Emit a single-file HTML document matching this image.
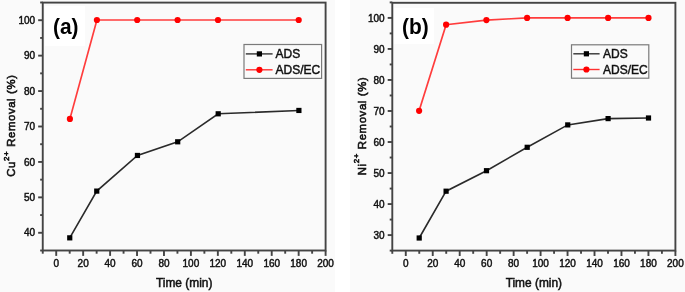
<!DOCTYPE html>
<html><head><meta charset="utf-8"><style>
html,body{margin:0;padding:0;background:#fafafa;}
body{width:685px;height:292px;overflow:hidden;}
svg{display:block;filter:blur(0.3px);font-family:"Liberation Sans",sans-serif;}
text{fill:#111;}
.th{stroke:#111;stroke-width:0.5px;}
.yt{stroke:#111;stroke-width:0.6px;letter-spacing:0.65px;}
.tk{stroke:#111;stroke-width:0.45px;}
</style></head><body>
<svg width="685" height="292" viewBox="0 0 685 292">
<rect x="0" y="0" width="685" height="292" fill="#fafafa"/>
<rect x="335" y="0" width="15" height="292" fill="#fff"/>
<rect x="45" y="6" width="40" height="40" fill="#ffffff"/>
<polyline points="69.75,237.85 96.75,191.1 137.45,155.45 177.7,141.8 218.2,113.8 298.9,110.45" fill="none" stroke="#2a2a2a" stroke-width="1.6"/>
<polyline points="69.9,118.9 96.9,20 137.2,20 177.6,20 218,20 298.7,20" fill="none" stroke="#ff3c3c" stroke-width="1.7"/>
<rect x="67.15" y="235.25" width="5.2" height="5.2" fill="#000"/>
<rect x="94.15" y="188.5" width="5.2" height="5.2" fill="#000"/>
<rect x="134.85" y="152.85" width="5.2" height="5.2" fill="#000"/>
<rect x="175.1" y="139.2" width="5.2" height="5.2" fill="#000"/>
<rect x="215.6" y="111.2" width="5.2" height="5.2" fill="#000"/>
<rect x="296.3" y="107.85" width="5.2" height="5.2" fill="#000"/>
<circle cx="69.9" cy="118.9" r="3.1" fill="#f00"/>
<circle cx="96.9" cy="20" r="3.1" fill="#f00"/>
<circle cx="137.2" cy="20" r="3.1" fill="#f00"/>
<circle cx="177.6" cy="20" r="3.1" fill="#f00"/>
<circle cx="218" cy="20" r="3.1" fill="#f00"/>
<circle cx="298.7" cy="20" r="3.1" fill="#f00"/>
<rect x="42.75" y="2.6" width="282.85" height="247.9" fill="none" stroke="#444" stroke-width="1.9"/>
<line x1="42.75" y1="250.5" x2="42.75" y2="253.7" stroke="#444" stroke-width="1.9"/>
<line x1="56.22" y1="250.5" x2="56.22" y2="255.9" stroke="#444" stroke-width="1.9"/>
<text x="56.22" y="266.8" text-anchor="middle" font-size="10" class="tk">0</text>
<line x1="69.69" y1="250.5" x2="69.69" y2="253.7" stroke="#444" stroke-width="1.9"/>
<line x1="83.16" y1="250.5" x2="83.16" y2="255.9" stroke="#444" stroke-width="1.9"/>
<text x="83.16" y="266.8" text-anchor="middle" font-size="10" class="tk">20</text>
<line x1="96.63" y1="250.5" x2="96.63" y2="253.7" stroke="#444" stroke-width="1.9"/>
<line x1="110.1" y1="250.5" x2="110.1" y2="255.9" stroke="#444" stroke-width="1.9"/>
<text x="110.1" y="266.8" text-anchor="middle" font-size="10" class="tk">40</text>
<line x1="123.56" y1="250.5" x2="123.56" y2="253.7" stroke="#444" stroke-width="1.9"/>
<line x1="137.03" y1="250.5" x2="137.03" y2="255.9" stroke="#444" stroke-width="1.9"/>
<text x="137.03" y="266.8" text-anchor="middle" font-size="10" class="tk">60</text>
<line x1="150.5" y1="250.5" x2="150.5" y2="253.7" stroke="#444" stroke-width="1.9"/>
<line x1="163.97" y1="250.5" x2="163.97" y2="255.9" stroke="#444" stroke-width="1.9"/>
<text x="163.97" y="266.8" text-anchor="middle" font-size="10" class="tk">80</text>
<line x1="177.44" y1="250.5" x2="177.44" y2="253.7" stroke="#444" stroke-width="1.9"/>
<line x1="190.91" y1="250.5" x2="190.91" y2="255.9" stroke="#444" stroke-width="1.9"/>
<text x="190.91" y="266.8" text-anchor="middle" font-size="10" class="tk">100</text>
<line x1="204.38" y1="250.5" x2="204.38" y2="253.7" stroke="#444" stroke-width="1.9"/>
<line x1="217.85" y1="250.5" x2="217.85" y2="255.9" stroke="#444" stroke-width="1.9"/>
<text x="217.85" y="266.8" text-anchor="middle" font-size="10" class="tk">120</text>
<line x1="231.32" y1="250.5" x2="231.32" y2="253.7" stroke="#444" stroke-width="1.9"/>
<line x1="244.79" y1="250.5" x2="244.79" y2="255.9" stroke="#444" stroke-width="1.9"/>
<text x="244.79" y="266.8" text-anchor="middle" font-size="10" class="tk">140</text>
<line x1="258.25" y1="250.5" x2="258.25" y2="253.7" stroke="#444" stroke-width="1.9"/>
<line x1="271.72" y1="250.5" x2="271.72" y2="255.9" stroke="#444" stroke-width="1.9"/>
<text x="271.72" y="266.8" text-anchor="middle" font-size="10" class="tk">160</text>
<line x1="285.19" y1="250.5" x2="285.19" y2="253.7" stroke="#444" stroke-width="1.9"/>
<line x1="298.66" y1="250.5" x2="298.66" y2="255.9" stroke="#444" stroke-width="1.9"/>
<text x="298.66" y="266.8" text-anchor="middle" font-size="10" class="tk">180</text>
<line x1="312.13" y1="250.5" x2="312.13" y2="253.7" stroke="#444" stroke-width="1.9"/>
<line x1="325.6" y1="250.5" x2="325.6" y2="255.9" stroke="#444" stroke-width="1.9"/>
<text x="325.6" y="266.8" text-anchor="middle" font-size="10" class="tk">200</text>
<line x1="42.75" y1="250.5" x2="40.15" y2="250.5" stroke="#444" stroke-width="1.9"/>
<line x1="42.75" y1="232.79" x2="38.15" y2="232.79" stroke="#444" stroke-width="1.9"/>
<text x="35.15" y="236.39" text-anchor="end" font-size="10" class="tk">40</text>
<line x1="42.75" y1="215.07" x2="40.15" y2="215.07" stroke="#444" stroke-width="1.9"/>
<line x1="42.75" y1="197.36" x2="38.15" y2="197.36" stroke="#444" stroke-width="1.9"/>
<text x="35.15" y="200.96" text-anchor="end" font-size="10" class="tk">50</text>
<line x1="42.75" y1="179.64" x2="40.15" y2="179.64" stroke="#444" stroke-width="1.9"/>
<line x1="42.75" y1="161.93" x2="38.15" y2="161.93" stroke="#444" stroke-width="1.9"/>
<text x="35.15" y="165.53" text-anchor="end" font-size="10" class="tk">60</text>
<line x1="42.75" y1="144.21" x2="40.15" y2="144.21" stroke="#444" stroke-width="1.9"/>
<line x1="42.75" y1="126.5" x2="38.15" y2="126.5" stroke="#444" stroke-width="1.9"/>
<text x="35.15" y="130.1" text-anchor="end" font-size="10" class="tk">70</text>
<line x1="42.75" y1="108.79" x2="40.15" y2="108.79" stroke="#444" stroke-width="1.9"/>
<line x1="42.75" y1="91.07" x2="38.15" y2="91.07" stroke="#444" stroke-width="1.9"/>
<text x="35.15" y="94.67" text-anchor="end" font-size="10" class="tk">80</text>
<line x1="42.75" y1="73.36" x2="40.15" y2="73.36" stroke="#444" stroke-width="1.9"/>
<line x1="42.75" y1="55.64" x2="38.15" y2="55.64" stroke="#444" stroke-width="1.9"/>
<text x="35.15" y="59.24" text-anchor="end" font-size="10" class="tk">90</text>
<line x1="42.75" y1="37.93" x2="40.15" y2="37.93" stroke="#444" stroke-width="1.9"/>
<line x1="42.75" y1="20.21" x2="38.15" y2="20.21" stroke="#444" stroke-width="1.9"/>
<text x="35.15" y="23.81" text-anchor="end" font-size="10" class="tk">100</text>
<line x1="42.75" y1="2.5" x2="40.15" y2="2.5" stroke="#444" stroke-width="1.9"/>
<text x="184.18" y="286.9" text-anchor="middle" font-size="11.9" class="th">Time (min)</text>
<text transform="translate(15.2,125.6) rotate(-90)" text-anchor="middle" font-size="11.3" class="yt">Cu<tspan dy="-6.2" font-size="8">2+</tspan><tspan dy="6.2"> Removal (%)</tspan></text>
<rect x="244" y="44.5" width="77.6" height="33.9" fill="none" stroke="#7a7a7a" stroke-width="1.2"/>
<line x1="245.8" y1="53.9" x2="272.6" y2="53.9" stroke="#333" stroke-width="1.4"/>
<rect x="256.8" y="51.3" width="5.2" height="5.2" fill="#000"/>
<line x1="245.8" y1="69.8" x2="272.6" y2="69.8" stroke="#ff3030" stroke-width="1.4"/>
<circle cx="259.4" cy="69.8" r="3.1" fill="#f00"/>
<text x="275.6" y="57.9" font-size="12" class="tk">ADS</text>
<text x="275.6" y="74.1" font-size="12" class="tk">ADS/EC</text>
<text transform="translate(53,33.5) scale(0.93,1)" font-size="22.5" font-weight="bold" style="fill:#000">(a)</text>
<rect x="394" y="8" width="40" height="36" fill="#ffffff"/>
<polyline points="419.2,238 446.1,191.2 486.5,170.7 527.2,147.3 567.75,124.9 608.1,118.6 648.5,118" fill="none" stroke="#2a2a2a" stroke-width="1.6"/>
<polyline points="419.1,110.85 446.1,24.7 486.4,20.1 527.1,17.9 567.6,17.9 608.1,17.9 648.5,17.9" fill="none" stroke="#ff3c3c" stroke-width="1.7"/>
<rect x="416.6" y="235.4" width="5.2" height="5.2" fill="#000"/>
<rect x="443.5" y="188.6" width="5.2" height="5.2" fill="#000"/>
<rect x="483.9" y="168.1" width="5.2" height="5.2" fill="#000"/>
<rect x="524.6" y="144.7" width="5.2" height="5.2" fill="#000"/>
<rect x="565.15" y="122.3" width="5.2" height="5.2" fill="#000"/>
<rect x="605.5" y="116.0" width="5.2" height="5.2" fill="#000"/>
<rect x="645.9" y="115.4" width="5.2" height="5.2" fill="#000"/>
<circle cx="419.1" cy="110.85" r="3.1" fill="#f00"/>
<circle cx="446.1" cy="24.7" r="3.1" fill="#f00"/>
<circle cx="486.4" cy="20.1" r="3.1" fill="#f00"/>
<circle cx="527.1" cy="17.9" r="3.1" fill="#f00"/>
<circle cx="567.6" cy="17.9" r="3.1" fill="#f00"/>
<circle cx="608.1" cy="17.9" r="3.1" fill="#f00"/>
<circle cx="648.5" cy="17.9" r="3.1" fill="#f00"/>
<rect x="392.3" y="2.8" width="283.1" height="247.8" fill="none" stroke="#444" stroke-width="1.9"/>
<line x1="392.3" y1="250.6" x2="392.3" y2="253.8" stroke="#444" stroke-width="1.9"/>
<line x1="405.78" y1="250.6" x2="405.78" y2="256.0" stroke="#444" stroke-width="1.9"/>
<text x="405.78" y="266.8" text-anchor="middle" font-size="10" class="tk">0</text>
<line x1="419.26" y1="250.6" x2="419.26" y2="253.8" stroke="#444" stroke-width="1.9"/>
<line x1="432.74" y1="250.6" x2="432.74" y2="256.0" stroke="#444" stroke-width="1.9"/>
<text x="432.74" y="266.8" text-anchor="middle" font-size="10" class="tk">20</text>
<line x1="446.22" y1="250.6" x2="446.22" y2="253.8" stroke="#444" stroke-width="1.9"/>
<line x1="459.7" y1="250.6" x2="459.7" y2="256.0" stroke="#444" stroke-width="1.9"/>
<text x="459.7" y="266.8" text-anchor="middle" font-size="10" class="tk">40</text>
<line x1="473.19" y1="250.6" x2="473.19" y2="253.8" stroke="#444" stroke-width="1.9"/>
<line x1="486.67" y1="250.6" x2="486.67" y2="256.0" stroke="#444" stroke-width="1.9"/>
<text x="486.67" y="266.8" text-anchor="middle" font-size="10" class="tk">60</text>
<line x1="500.15" y1="250.6" x2="500.15" y2="253.8" stroke="#444" stroke-width="1.9"/>
<line x1="513.63" y1="250.6" x2="513.63" y2="256.0" stroke="#444" stroke-width="1.9"/>
<text x="513.63" y="266.8" text-anchor="middle" font-size="10" class="tk">80</text>
<line x1="527.11" y1="250.6" x2="527.11" y2="253.8" stroke="#444" stroke-width="1.9"/>
<line x1="540.59" y1="250.6" x2="540.59" y2="256.0" stroke="#444" stroke-width="1.9"/>
<text x="540.59" y="266.8" text-anchor="middle" font-size="10" class="tk">100</text>
<line x1="554.07" y1="250.6" x2="554.07" y2="253.8" stroke="#444" stroke-width="1.9"/>
<line x1="567.55" y1="250.6" x2="567.55" y2="256.0" stroke="#444" stroke-width="1.9"/>
<text x="567.55" y="266.8" text-anchor="middle" font-size="10" class="tk">120</text>
<line x1="581.03" y1="250.6" x2="581.03" y2="253.8" stroke="#444" stroke-width="1.9"/>
<line x1="594.51" y1="250.6" x2="594.51" y2="256.0" stroke="#444" stroke-width="1.9"/>
<text x="594.51" y="266.8" text-anchor="middle" font-size="10" class="tk">140</text>
<line x1="608" y1="250.6" x2="608" y2="253.8" stroke="#444" stroke-width="1.9"/>
<line x1="621.48" y1="250.6" x2="621.48" y2="256.0" stroke="#444" stroke-width="1.9"/>
<text x="621.48" y="266.8" text-anchor="middle" font-size="10" class="tk">160</text>
<line x1="634.96" y1="250.6" x2="634.96" y2="253.8" stroke="#444" stroke-width="1.9"/>
<line x1="648.44" y1="250.6" x2="648.44" y2="256.0" stroke="#444" stroke-width="1.9"/>
<text x="648.44" y="266.8" text-anchor="middle" font-size="10" class="tk">180</text>
<line x1="661.92" y1="250.6" x2="661.92" y2="253.8" stroke="#444" stroke-width="1.9"/>
<line x1="675.4" y1="250.6" x2="675.4" y2="256.0" stroke="#444" stroke-width="1.9"/>
<text x="675.4" y="266.8" text-anchor="middle" font-size="10" class="tk">200</text>
<line x1="392.3" y1="250.6" x2="389.7" y2="250.6" stroke="#444" stroke-width="1.9"/>
<line x1="392.3" y1="235.09" x2="387.7" y2="235.09" stroke="#444" stroke-width="1.9"/>
<text x="384.7" y="238.69" text-anchor="end" font-size="10" class="tk">30</text>
<line x1="392.3" y1="219.57" x2="389.7" y2="219.57" stroke="#444" stroke-width="1.9"/>
<line x1="392.3" y1="204.06" x2="387.7" y2="204.06" stroke="#444" stroke-width="1.9"/>
<text x="384.7" y="207.66" text-anchor="end" font-size="10" class="tk">40</text>
<line x1="392.3" y1="188.55" x2="389.7" y2="188.55" stroke="#444" stroke-width="1.9"/>
<line x1="392.3" y1="173.04" x2="387.7" y2="173.04" stroke="#444" stroke-width="1.9"/>
<text x="384.7" y="176.64" text-anchor="end" font-size="10" class="tk">50</text>
<line x1="392.3" y1="157.52" x2="389.7" y2="157.52" stroke="#444" stroke-width="1.9"/>
<line x1="392.3" y1="142.01" x2="387.7" y2="142.01" stroke="#444" stroke-width="1.9"/>
<text x="384.7" y="145.61" text-anchor="end" font-size="10" class="tk">60</text>
<line x1="392.3" y1="126.5" x2="389.7" y2="126.5" stroke="#444" stroke-width="1.9"/>
<line x1="392.3" y1="110.99" x2="387.7" y2="110.99" stroke="#444" stroke-width="1.9"/>
<text x="384.7" y="114.59" text-anchor="end" font-size="10" class="tk">70</text>
<line x1="392.3" y1="95.47" x2="389.7" y2="95.47" stroke="#444" stroke-width="1.9"/>
<line x1="392.3" y1="79.96" x2="387.7" y2="79.96" stroke="#444" stroke-width="1.9"/>
<text x="384.7" y="83.56" text-anchor="end" font-size="10" class="tk">80</text>
<line x1="392.3" y1="64.45" x2="389.7" y2="64.45" stroke="#444" stroke-width="1.9"/>
<line x1="392.3" y1="48.94" x2="387.7" y2="48.94" stroke="#444" stroke-width="1.9"/>
<text x="384.7" y="52.54" text-anchor="end" font-size="10" class="tk">90</text>
<line x1="392.3" y1="33.42" x2="389.7" y2="33.42" stroke="#444" stroke-width="1.9"/>
<line x1="392.3" y1="17.91" x2="387.7" y2="17.91" stroke="#444" stroke-width="1.9"/>
<text x="384.7" y="21.51" text-anchor="end" font-size="10" class="tk">100</text>
<line x1="392.3" y1="2.4" x2="389.7" y2="2.4" stroke="#444" stroke-width="1.9"/>
<text x="533.85" y="286.9" text-anchor="middle" font-size="11.9" class="th">Time (min)</text>
<text transform="translate(365.5,126) rotate(-90)" text-anchor="middle" font-size="11.3" class="yt">Ni<tspan dy="-6.2" font-size="8">2+</tspan><tspan dy="6.2"> Removal (%)</tspan></text>
<rect x="571.5" y="44.8" width="77.3" height="33.4" fill="none" stroke="#7a7a7a" stroke-width="1.2"/>
<line x1="573.3" y1="53.8" x2="599.6" y2="53.8" stroke="#333" stroke-width="1.4"/>
<rect x="583.8" y="51.2" width="5.2" height="5.2" fill="#000"/>
<line x1="573.3" y1="69.5" x2="599.6" y2="69.5" stroke="#ff3030" stroke-width="1.4"/>
<circle cx="586.4" cy="69.5" r="3.1" fill="#f00"/>
<text x="603" y="57.8" font-size="12" class="tk">ADS</text>
<text x="603" y="73.8" font-size="12" class="tk">ADS/EC</text>
<text transform="translate(402,34) scale(0.93,1)" font-size="22.5" font-weight="bold" style="fill:#000">(b)</text>
</svg>
</body></html>
